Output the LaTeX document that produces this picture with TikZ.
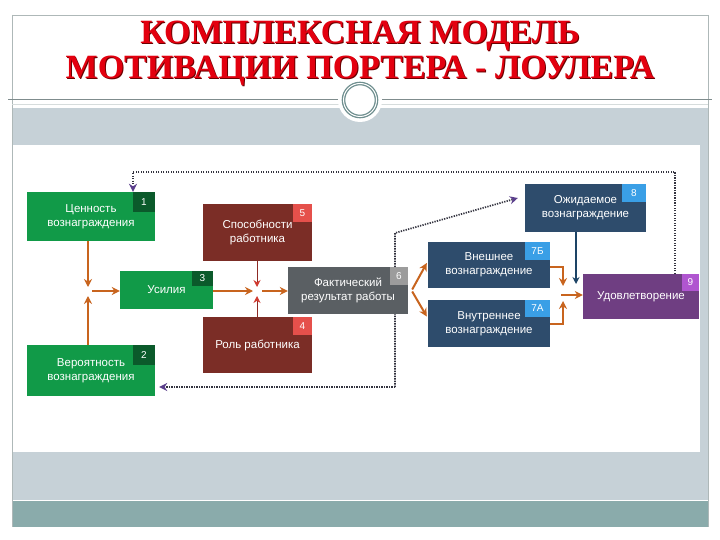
\documentclass[tikz,border=0pt]{standalone}
\usepackage{fontspec}
\setmainfont{Liberation Sans}
\newfontfamily\titlefont{Liberation Serif}
\usetikzlibrary{arrows.meta,calc}
\definecolor{gbox}{HTML}{119A48}
\definecolor{gnum}{HTML}{0B5A2B}
\definecolor{rbox}{HTML}{7B2D26}
\definecolor{rnum}{HTML}{E5504B}
\definecolor{sbox}{HTML}{5A5F63}
\definecolor{snum}{HTML}{9C9C9C}
\definecolor{bbox}{HTML}{2E4C6C}
\definecolor{bnum}{HTML}{3A9FE6}
\definecolor{pbox}{HTML}{6F3E82}
\definecolor{pnum}{HTML}{B056D0}
\definecolor{orc}{HTML}{C8641E}
\definecolor{brc}{HTML}{8E2A24}
\definecolor{brtip}{HTML}{D03A30}
\definecolor{blc}{HTML}{1D4466}
\definecolor{dotc}{HTML}{33333F}
\definecolor{dottip}{HTML}{5B3F8C}
\definecolor{bandc}{HTML}{C6D1D7}
\definecolor{tealc}{HTML}{8AABAB}
\definecolor{framec}{HTML}{AEB8B8}
\definecolor{sepc}{HTML}{7F8C8D}
\definecolor{ringc}{HTML}{6F8F8F}
\definecolor{titlec}{HTML}{E3000F}
\definecolor{titlesh}{HTML}{6B0000}
\pgfdeclarelayer{back}
\pgfdeclarelayer{lines}
\pgfsetlayers{back,lines,main}
\begin{document}
\begin{tikzpicture}[x=1pt,y=-1pt,
  box/.style={text=white, inner sep=1pt, align=center, font=\fontsize{11.5}{14}\selectfont},
  num/.style={text=white, inner sep=0pt, anchor=north east, font=\fontsize{10}{11}\selectfont},
  ttl/.style={font=\titlefont\bfseries\fontsize{34}{36}\selectfont, text=titlec, inner sep=0pt},
  ttlsh/.style={font=\titlefont\bfseries\fontsize{34}{36}\selectfont, text=titlesh, inner sep=0pt},
  or/.style={draw=orc, line width=2pt, -{Stealth[length=8pt,width=8pt]}},
  br/.style={draw=brc, line width=1pt, -{Stealth[length=7pt,width=7pt,color=brtip]}},
  bl/.style={draw=blc, line width=1.2pt, -{Stealth[length=7pt,width=7pt]}},
  dotl/.style={draw=dotc, line width=1.7pt, dash pattern=on 1.3pt off 1.2pt},
  dotarr/.style={dotl, -{Stealth[length=8pt,width=8pt,color=dottip]}}
]
\useasboundingbox (0,0) rectangle (720,540);
\begin{pgfonlayer}{back}
\fill[white] (0,0) rectangle (720,540);
\fill[bandc] (12,108) rectangle (708,145);
\fill[bandc] (700,145) rectangle (708,452);
\fill[bandc] (12,452) rectangle (708,500);
\fill[tealc] (12,500) rectangle (708,527);
\draw[white, line width=0.8pt] (12,500.5) -- (708,500.5);
\draw[framec, line width=0.8pt] (12,15) -- (708,15);
\draw[framec, line width=0.8pt] (12,15) -- (12,527);
\draw[framec, line width=0.8pt] (708,15) -- (708,527);
\draw[sepc, line width=1pt] (8,100) -- (712,100);
\draw[framec!50, line width=0.6pt] (12,104) -- (708,104);
\fill[white] (360,100) circle (22pt);
\draw[ringc, line width=1.3pt, double=white, double distance=1pt] (360,100) circle (16.5pt);
\end{pgfonlayer}

\node[ttlsh] (t1s) at (361,37) {КОМПЛЕКСНАЯ МОДЕЛЬ};
\node[ttl] (t1) at (360,36) {КОМПЛЕКСНАЯ МОДЕЛЬ};
\node[ttlsh] (t2s) at (361,72) {МОТИВАЦИИ ПОРТЕРА - ЛОУЛЕРА};
\node[ttl] (t2) at (360,71) {МОТИВАЦИИ ПОРТЕРА - ЛОУЛЕРА};

% boxes
\node[box, fill=gbox, minimum width=128, minimum height=49] (b1) at (91,216.5) {Ценность\\вознаграждения};
\node[box, fill=gbox, minimum width=128, minimum height=51] (b2) at (91,370.5) {Вероятность\\вознаграждения};
\node[box, fill=gbox, minimum width=93, minimum height=38] (b3) at (166.5,290) {Усилия};
\node[box, fill=rbox, minimum width=109, minimum height=56] (b4) at (257.5,345) {Роль работника};
\node[box, fill=rbox, minimum width=109, minimum height=57] (b5) at (257.5,232.5) {Способности\\работника};
\node[box, fill=sbox, minimum width=120, minimum height=47] (b6) at (348,290.5) {Фактический\\результат работы};
\node[box, fill=bbox, minimum width=122, minimum height=46] (b7b) at (489,265) {Внешнее\\вознаграждение};
\node[box, fill=bbox, minimum width=122, minimum height=47] (b7a) at (489,323.5) {Внутреннее\\вознаграждение};
\node[box, fill=bbox, minimum width=121, minimum height=48] (b8) at (585.5,208) {Ожидаемое\\вознаграждение};
\node[box, fill=pbox, minimum width=116, minimum height=45] (b9) at (641,296.5) {Удовлетворение};

% numbers
\node[num, fill=gnum, minimum width=22, minimum height=20] (n1) at (b1.north east) {1};
\node[num, fill=gnum, minimum width=22, minimum height=20] (n2) at (b2.north east) {2};
\node[num, fill=gnum, minimum width=21, minimum height=15] (n3) at (b3.north east) {3};
\node[num, fill=rnum, minimum width=19, minimum height=18] (n4) at (b4.north east) {4};
\node[num, fill=rnum, minimum width=19, minimum height=18] (n5) at (b5.north east) {5};
\node[num, fill=snum, minimum width=18, minimum height=18] (n6) at (b6.north east) {6};
\node[num, fill=bnum, minimum width=25, minimum height=18] (n7b) at (b7b.north east) {7Б};
\node[num, fill=bnum, minimum width=25, minimum height=17] (n7a) at (b7a.north east) {7А};
\node[num, fill=bnum, minimum width=24, minimum height=18] (n8) at (b8.north east) {8};
\node[num, fill=pnum, minimum width=17, minimum height=17] (n9) at (b9.north east) {9};

% junctions
\coordinate (j1) at (88,291);
\coordinate (j2) at (257,291);
\coordinate (j3) at (563,294);
\coordinate (j4) at (576,284);
\coordinate (d1) at (675,172);
\coordinate (d2) at (133,172);
\coordinate (d3) at (395,387);
\coordinate (d4) at (395,233);

\begin{pgfonlayer}{lines}
\draw[or] (b1.south -| j1) -- ($(j1)+(0,-4)$);
\draw[or] (b2.north -| j1) -- ($(j1)+(0,5)$);
\draw[or] ($(j1)+(4,0)$) -- (b3.west |- j1);
\draw[or] (b3.east |- j2) -- ($(j2)+(-4,0)$);
\draw[br] (b5.south -| j2) -- ($(j2)+(0,-4)$);
\draw[br] (b4.north -| j2) -- ($(j2)+(0,5)$);
\draw[or] ($(j2)+(5,0)$) -- (b6.west |- j2);
\draw[or] ($(b6.east)+(4,-1)$) -- ($(b7b.west)+(-1,-2)$);
\draw[or] ($(b6.east)+(4,1)$) -- ($(b7a.west)+(-1,-7)$);
\draw[or] ($(b7b.east)+(0,2)$) -| ($(j3)+(0,-8)$);
\draw[or] (b7a.east) -| ($(j3)+(0,7)$);
\draw[or] ($(j3)+(-2,1)$) -- (b9.west |- 0,295);
\draw[bl] (b8.south -| j4) -- (j4);
\draw[dotarr] (b9.north -| d1) -- (d1) -- (d2) -- (b1.north -| d2);
\draw[dotarr, shorten >=4pt] (d3) -- (b2.east |- d3);
\draw[dotarr] (d3) -- (d4) -- ($(b8.west)+(-7,-10)$);
\end{pgfonlayer}
\end{tikzpicture}
\end{document}
